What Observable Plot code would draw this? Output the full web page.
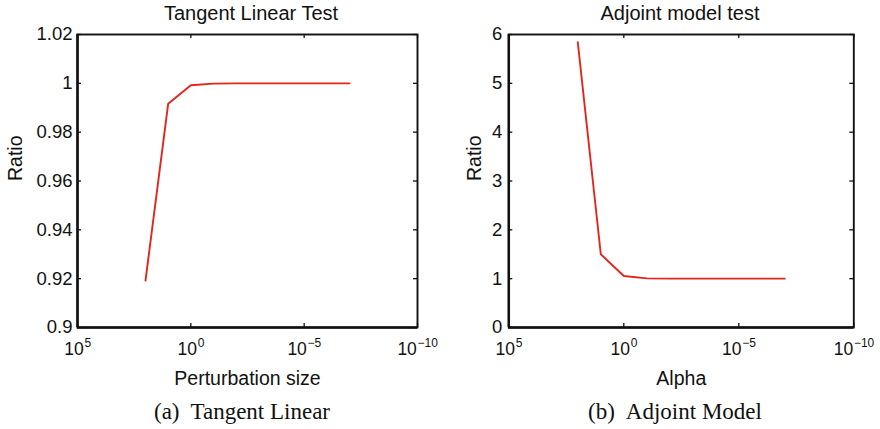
<!DOCTYPE html>
<html><head><meta charset="utf-8">
<script src="https://cdn.jsdelivr.net/npm/d3@7"></script>
<script src="https://cdn.jsdelivr.net/npm/@observablehq/plot@0.6"></script>
<style>
body{margin:0;background:#fff;}
#wrap{position:relative;width:880px;height:429px;overflow:hidden;background:#fff;}
.title{position:absolute;top:3px;font:20px/20px "Liberation Sans",Arial,sans-serif;color:#111;text-align:center;white-space:nowrap;}
.cap{position:absolute;top:400px;font:23px/23px "Liberation Serif","Times New Roman",serif;color:#111;text-align:center;white-space:nowrap;}
.panel{position:absolute;top:22px;}
</style></head><body><div id="wrap"></div>
<script>
// ---- data ----
const tlSize  = [1e2, 1e1, 1e0, 1e-1, 1e-2, 1e-3, 1e-4, 1e-5, 1e-6, 1e-7];
const tlRatio = [0.9192, 0.9916, 0.9992, 0.9999, 1.0, 1.0, 1.0, 1.0, 1.0, 1.0];
const adAlpha = [1e2, 1e1, 1e0, 1e-1, 1e-2, 1e-3, 1e-4, 1e-5, 1e-6, 1e-7];
const adRatio = [5.84, 1.50, 1.055, 1.005, 1.0, 1.0, 1.0, 1.0, 1.0, 1.0];
const xTicks = [1e5, 1e0, 1e-5, 1e-10];
const xTickExp = ["5", "0", "\u22125", "\u221210"];
const tlYTicks = [0.9, 0.92, 0.94, 0.96, 0.98, 1.0, 1.02];
const adYTicks = [0, 1, 2, 3, 4, 5, 6];
const titles = ["Tangent Linear Test", "Adjoint model test"];
const xLabels = ["Perturbation size", "Alpha"];
const yLabel = "Ratio";
const captions = [["(a)", "Tangent Linear"], ["(b)", "Adjoint Model"]];

const RED = "#e2261c";
const INK = "#111111";
const wrap = document.getElementById("wrap");

function panel({xs, ys, yTicks, yDomain, left, marginLeft, marginRight, xLabel, fmt, tickDx, yLabDx}) {
  const W = 440, H = 372, mt = 12, mb = 67;
  const frameH = H - mt - mb, frameW = W - marginLeft - marginRight;
  const data = xs.map((x, i) => ({x, y: ys[i]}));
  const expMarks = xTicks.flatMap((t, i) => {
    const e = xTickExp[i];
    const ew = [...e].reduce((s, c) => s + (c === "\u2212" ? 7.0 : 6.67), 0);
    const tot = 18.9 + 1 + ew;
    return [
      Plot.text([t], {x: d => d, text: () => "10", frameAnchor: "bottom", textAnchor: "start",
        lineAnchor: "bottom", dx: -tot / 2, dy: 27, fontSize: 17.5}),
      Plot.text([t], {x: d => d, text: () => e, frameAnchor: "bottom", textAnchor: "start",
        lineAnchor: "bottom", dx: -tot / 2 + 20.2, dy: 19.5, fontSize: 12})
    ];
  });
  const svg = Plot.plot({
    width: W, height: H, marginTop: mt, marginBottom: mb, marginLeft, marginRight,
    style: {fontFamily: "'Liberation Sans', Arial, sans-serif", color: INK, background: "transparent"},
    x: {type: "log", domain: [1e5, 1e-10], axis: null},
    y: {domain: yDomain, axis: null},
    marks: [
      Plot.line(data, {x: "x", y: "y", stroke: RED, strokeWidth: 1.9}),
      Plot.tickX(xTicks, {x: d => d, insetTop: frameH - 4, stroke: INK, strokeWidth: 1.3}),
      Plot.tickX(xTicks, {x: d => d, insetBottom: frameH - 4, stroke: INK, strokeWidth: 1.3}),
      Plot.tickY(yTicks, {y: d => d, insetRight: frameW - 4, stroke: INK, strokeWidth: 1.3}),
      Plot.tickY(yTicks, {y: d => d, insetLeft: frameW - 4, stroke: INK, strokeWidth: 1.3}),
      Plot.frame({stroke: INK, strokeWidth: 1.9}),
      Plot.ruleX([xTicks[0]], {stroke: INK, strokeWidth: 2.5}),
      Plot.ruleY([yDomain[0]], {stroke: INK, strokeWidth: 2.5}),
      Plot.text(yTicks, {y: d => d, text: fmt, frameAnchor: "left", textAnchor: "end",
        lineAnchor: "middle", dx: tickDx, fontSize: 18.5}),
      ...expMarks,
      Plot.text([xLabel], {text: d => d, frameAnchor: "bottom", lineAnchor: "bottom", dy: 57, fontSize: 19.5}),
      Plot.text([yLabel], {text: d => d, frameAnchor: "left", rotate: -90, lineAnchor: "middle", dx: yLabDx, fontSize: 19.5})
    ]
  });
  svg.classList.add("panel");
  svg.style.left = left + "px";
  wrap.appendChild(svg);
}

const fmt2 = d => String(+d.toFixed(2));
panel({xs: tlSize, ys: tlRatio, yTicks: tlYTicks, yDomain: [0.9, 1.02], left: 0,
  marginLeft: 77, marginRight: 23, xLabel: xLabels[0], fmt: fmt2, tickDx: -5, yLabDx: -62});
panel({xs: adAlpha, ys: adRatio, yTicks: adYTicks, yDomain: [0, 6], left: 440,
  marginLeft: 68.3, marginRight: 26.7, xLabel: xLabels[1], fmt: d => String(d), tickDx: -6.5, yLabDx: -34});

// titles & captions (HTML, above and below the SVGs)
[[0, 77, 417, 251], [1, 508.3, 853.3, 680]].forEach(([i, a, b, tc]) => {
  const t = document.createElement("div");
  t.className = "title";
  t.textContent = titles[i];
  t.style.left = (tc - 150) + "px"; t.style.width = "300px";
  wrap.appendChild(t);
  const c = document.createElement("div");
  c.className = "cap";
  const s1 = document.createElement("span"); s1.textContent = captions[i][0];
  const s2 = document.createElement("span"); s2.textContent = captions[i][1]; s2.style.marginLeft = "11px";
  c.append(s1, s2);
  const cc = i === 0 ? 242 : 675;
  c.style.left = (cc - 150) + "px"; c.style.width = "300px";
  wrap.appendChild(c);
});
</script></body></html>
